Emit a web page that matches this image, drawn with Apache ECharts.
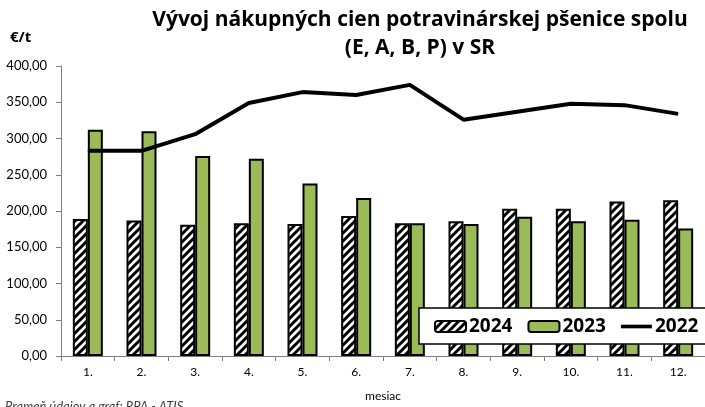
<!DOCTYPE html>
<html>
<head>
<meta charset="utf-8">
<script src="https://cdn.jsdelivr.net/npm/echarts@6/dist/echarts.min.js"></script>
<style>
  html, body { margin: 0; padding: 0; background: #fff; }
  #chart { width: 705px; height: 407px; }
</style>
</head>
<body>
<div id="chart"></div>
<script>
const months = ['1.', '2.', '3.', '4.', '5.', '6.', '7.', '8.', '9.', '10.', '11.', '12.']
const prices2024 = [189, 187, 181, 183, 182, 193, 183, 186, 203, 203, 213, 215]
const prices2023 = [312, 310, 276, 272, 238, 218, 183, 182, 192, 186, 188, 176]
const prices2022 = [283, 283, 306, 349, 364, 360, 374, 326, 337, 348, 346, 334]

const font = 'Lato'
const boldFont = 'Open Sans'

// diagonal hatch for the 2024 bars
const makeHatch = () => {
  const c = document.createElement('canvas')
  c.width = 8
  c.height = 8
  const ctx = c.getContext('2d')
  ctx.fillStyle = '#fff'
  ctx.fillRect(0, 0, 8, 8)
  ctx.strokeStyle = '#000'
  ctx.lineWidth = 3
  ctx.beginPath()
  ctx.moveTo(-1, 9); ctx.lineTo(9, -1)
  ctx.moveTo(-5, 5); ctx.lineTo(5, -5)
  ctx.moveTo(3, 13); ctx.lineTo(13, 3)
  ctx.stroke()
  return c
}

const chart = echarts.init(document.getElementById('chart'), null, { renderer: 'canvas' })

chart.setOption({
  animation: false,
  textStyle: { fontFamily: font },
  grid: { left: 61, right: -4, top: 66, bottom: 50 },
  graphic: [
    {
      type: 'text', x: 420, y: 6,
      style: {
        text: 'Vývoj nákupných cien potravinárskej pšenice spolu\n(E, A, B, P) v SR',
        align: 'center', fontFamily: boldFont, fontWeight: 'bold', fontSize: 21, lineHeight: 28, fill: '#000'
      }
    },
    {
      type: 'text', x: 10, y: 30,
      style: { text: '€/t', fontFamily: boldFont, fontWeight: 'bold', fontSize: 15, fill: '#000' }
    },
    {
      type: 'text', x: 5, y: 400,
      style: { text: 'Prameň údajov a graf: RPA - ATIS', fontFamily: font, fontStyle: 'italic', fontSize: 13, fill: '#404040' }
    }
  ],
  legend: {
    left: 419,
    top: 308,
    width: 320,
    padding: [9, 30, 8, 15],
    backgroundColor: '#fff',
    borderColor: '#000',
    borderWidth: 1.5,
    borderRadius: 0,
    itemWidth: 31,
    itemHeight: 11,
    itemGap: 15,
    textStyle: { fontFamily: boldFont, fontWeight: 'bold', fontSize: 19, color: '#000', padding: [0, 0, 0, -2] },
    data: ['2024', '2023', { name: '2022', icon: 'path://M0,0L34,0L34,4L0,4Z' }]
  },
  xAxis: {
    type: 'category',
    data: months,
    name: 'mesiac',
    nameLocation: 'middle',
    nameGap: 34,
    nameTextStyle: { fontSize: 12, color: '#000' },
    axisLine: { lineStyle: { color: '#7f7f7f', width: 1 } },
    axisTick: { show: true, length: 5, lineStyle: { color: '#7f7f7f' } },
    axisLabel: { fontSize: 12, color: '#000', margin: 10 }
  },
  yAxis: {
    type: 'value',
    min: 0,
    max: 400,
    interval: 50,
    splitLine: { show: false },
    axisLine: { show: true, lineStyle: { color: '#7f7f7f', width: 1 } },
    axisTick: { show: true, length: 5, lineStyle: { color: '#7f7f7f' } },
    axisLabel: {
      fontSize: 13, color: '#000', margin: 14,
      formatter: v => v.toFixed(2).replace('.', ',')
    }
  },
  series: [
    {
      name: '2024',
      type: 'bar',
      data: prices2024,
      barWidth: 15,
      barGap: '0%',
      itemStyle: { color: { image: makeHatch(), repeat: 'repeat' }, borderColor: '#000', borderWidth: 2 }
    },
    {
      name: '2023',
      type: 'bar',
      data: prices2023,
      barWidth: 15,
      barGap: '0%',
      itemStyle: { color: '#9bbb59', borderColor: '#000', borderWidth: 2 }
    },
    {
      name: '2022',
      type: 'line',
      data: prices2022,
      symbol: 'none',
      z: 5,
      lineStyle: { color: '#000', width: 4 },
      itemStyle: { color: '#000' }
    }
  ]
})
</script>
</body>
</html>
